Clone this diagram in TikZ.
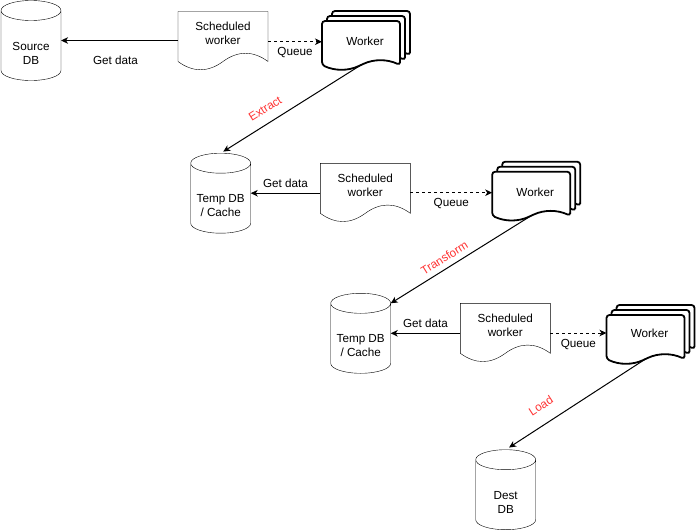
\documentclass[tikz,border=0pt]{standalone}
\usepackage{fontspec}
\setmainfont{Liberation Sans}
\usetikzlibrary{arrows.meta,positioning,calc,backgrounds}

\definecolor{etlred}{HTML}{FF3333}

\tikzset{
  db/.style={minimum width=60pt, minimum height=80pt, inner sep=0pt, outer sep=0pt},
  doc/.style={minimum width=90pt, minimum height=50pt, inner sep=0pt, outer sep=0pt},
  worker/.style={minimum width=78pt, minimum height=44pt, inner sep=0pt, outer sep=0pt},
  txt/.style={align=center},
  qline/.style={->, dash pattern=on 3pt off 3pt},
  etl/.style={text=etlred, sloped},
}

% document outline: node, dx, dy, ctrl x, ctrl y, extra style
\newcommand\docshape[6]{%
  \draw[fill=white, #6]
    ($(#1.south east)+(#2,#3)$) -- ($(#1.north east)+(#2,#3)$)
    -- ($(#1.north west)+(#2,#3)$) -- ($(#1.south west)+(#2,#3)$)
    .. controls ($(#1.south west)+(#2+#4,#3+#5)$) and ($(#1.south)+(#2-#4,#3+#5)$) .. ($(#1.south)+(#2,#3)$)
    .. controls ($(#1.south)+(#2+#4,#3-#5)$) and ($(#1.south east)+(#2-#4,#3-#5)$) .. ($(#1.south east)+(#2,#3)$)
    -- cycle;}

\begin{document}
\begin{tikzpicture}[x=1pt, y=-1pt, >={Stealth[length=7pt,width=6.5pt,inset=2pt]},
  line width=1pt, font=\fontsize{11.7}{14}\selectfont]
\useasboundingbox (0,0) rectangle (697,530);

% databases
\foreach \n/\x/\y/\lbl in {src/31/40.5/{Source\\DB}, tmpa/220.7/193.2/{Temp DB\\/ Cache},
  tmpb/360.7/333.3/{Temp DB\\/ Cache}, dst/505.7/489.7/{Dest\\DB}}
  \node[db, label={[txt, yshift=-12.5pt]center:\lbl}] (\n) at (\x,\y) {};

% scheduled workers
\foreach \n/\x/\y in {scha/223/36.5, schb/365.3/188.3, schc/505.3/328.3}
  \node[doc, label={[txt, yshift=3pt]center:Scheduled\\worker}] (\n) at (\x,\y) {};

% workers
\foreach \n/\x/\y/\s in {wrka/361/43/1.3, wrkb/531.2/193.7/1, wrkc/645.5/337/4}
  \node[worker, label={[name=\n-t, xshift=4pt, yshift=\s pt]center:Worker}] (\n) at (\x,\y) {};

\begin{scope}[on background layer]
  \foreach \n in {src,tmpa,tmpb,dst}
    \draw[fill=white] ($(\n.north west)+(0,10)$) -- ($(\n.south west)+(0,-10)$)
      arc[start angle=180, end angle=360, x radius=30pt, y radius=10pt]
      -- ($(\n.north east)+(0,10)$)
      arc[start angle=0, end angle=180, x radius=30pt, y radius=10pt] -- cycle
      ($(\n.north west)+(0,10)$)
      arc[start angle=180, end angle=360, x radius=30pt, y radius=10pt];
  \foreach \n in {scha,schb,schc}
    \docshape{\n}{0}{0}{15}{11}{sharp corners};
  \foreach \n in {wrka,wrkb,wrkc}
    \foreach \o in {10,5,0}
      \docshape{\n}{\o}{-\o}{13}{6}{line width=1.8pt, rounded corners=3pt};
\end{scope}

% get data
\draw[->] (scha.west |- src) -- (src.east) node[midway, below=12pt, xshift=-4pt] (gda) {Get data};
\draw[->] (schb.west |- tmpa) -- (tmpa.east) node[midway, above=2pt] (gdb) {Get data};
\draw[->] (schc.west |- tmpb) -- (tmpb.east) node[midway, above=2pt] (gdc) {Get data};

% queue
\foreach \s/\w/\q in {scha/wrka/qa, schb/wrkb/qb, schc/wrkc/qc}
  \draw[qline] (\s.east |- \w-t) -- (\w.west |- \w-t) node[midway, below=2pt] (\q) {Queue};

% extract, transform, load
\draw[->, shorten >=3pt] (wrka.south) -- (tmpa.north) node[etl, pos=0.63, above=6pt] (ext) {Extract};
\draw[->] (wrkb.south) -- ($(tmpb.north east)+(0,10)$) node[etl, pos=0.58, above=2pt] (trf) {Transform};
\draw[->, shorten >=4pt] (wrkc.south) -- (dst.north) node[etl, pos=0.68, above=9.5pt] (lod) {Load};

\end{tikzpicture}
\end{document}
